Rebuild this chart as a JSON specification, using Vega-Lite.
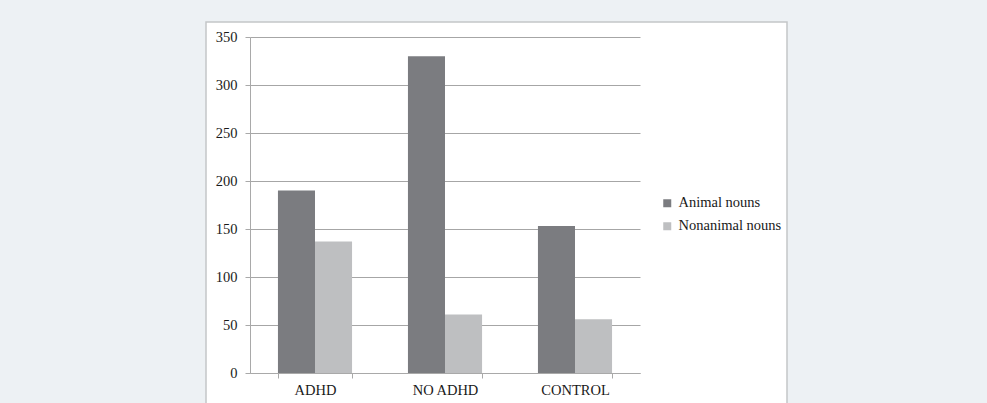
{
  "$schema": "https://vega.github.io/schema/vega-lite/v6.json",
  "autosize": "none",
  "width": 581,
  "height": 385,
  "padding": {"left": 206, "top": 22, "right": 200, "bottom": 0},
  "background": "#edf1f4",
  "config": {
    "font": "Liberation Serif",
    "view": {"fill": "#ffffff", "stroke": "#c4c6c8", "strokeWidth": 1.5},
    "axis": {
      "labelFont": "Liberation Serif",
      "labelFontSize": 14.5,
      "labelColor": "#1a1a1a",
      "domainColor": "#a9a9a9",
      "tickColor": "#a9a9a9",
      "gridColor": "#a6a6a6",
      "gridOpacity": 1,
      "title": null
    },
    "legend": {
      "labelFont": "Liberation Serif",
      "labelFontSize": 14.5,
      "labelColor": "#1a1a1a"
    }
  },
  "data": {
    "values": [
      {"group": "ADHD", "type": "Animal nouns", "value": 190},
      {"group": "ADHD", "type": "Nonanimal nouns", "value": 137},
      {"group": "NO ADHD", "type": "Animal nouns", "value": 330},
      {"group": "NO ADHD", "type": "Nonanimal nouns", "value": 61},
      {"group": "CONTROL", "type": "Animal nouns", "value": 153},
      {"group": "CONTROL", "type": "Nonanimal nouns", "value": 56}
    ]
  },
  "mark": {"type": "bar"},
  "encoding": {
    "x": {
      "field": "group",
      "type": "nominal",
      "sort": ["ADHD", "NO ADHD", "CONTROL"],
      "scale": {"range": [44, 434], "paddingInner": 0.43, "paddingOuter": 0.215},
      "axis": {
        "labelAngle": 0,
        "offset": -34,
        "tickBand": "extent",
        "tickSize": 5,
        "labelPadding": 5,
        "grid": false
      }
    },
    "xOffset": {
      "field": "type",
      "type": "nominal",
      "scale": {"paddingInner": 0, "paddingOuter": 0}
    },
    "y": {
      "field": "value",
      "type": "quantitative",
      "scale": {"domain": [0, 350], "range": [351, 15], "nice": false},
      "axis": {
        "values": [0, 50, 100, 150, 200, 250, 300, 350],
        "offset": -44,
        "tickSize": 5,
        "labelPadding": 8,
        "grid": true
      }
    },
    "color": {
      "field": "type",
      "type": "nominal",
      "scale": {"domain": ["Animal nouns", "Nonanimal nouns"], "range": ["#7b7c80", "#bebfc1"]},
      "legend": {
        "title": null,
        "orient": "none",
        "legendX": 454,
        "legendY": 174,
        "symbolType": "square",
        "symbolSize": 64,
        "symbolStrokeWidth": 0,
        "rowPadding": 8,
        "labelOffset": 4,
        "padding": 0
      }
    }
  }
}
